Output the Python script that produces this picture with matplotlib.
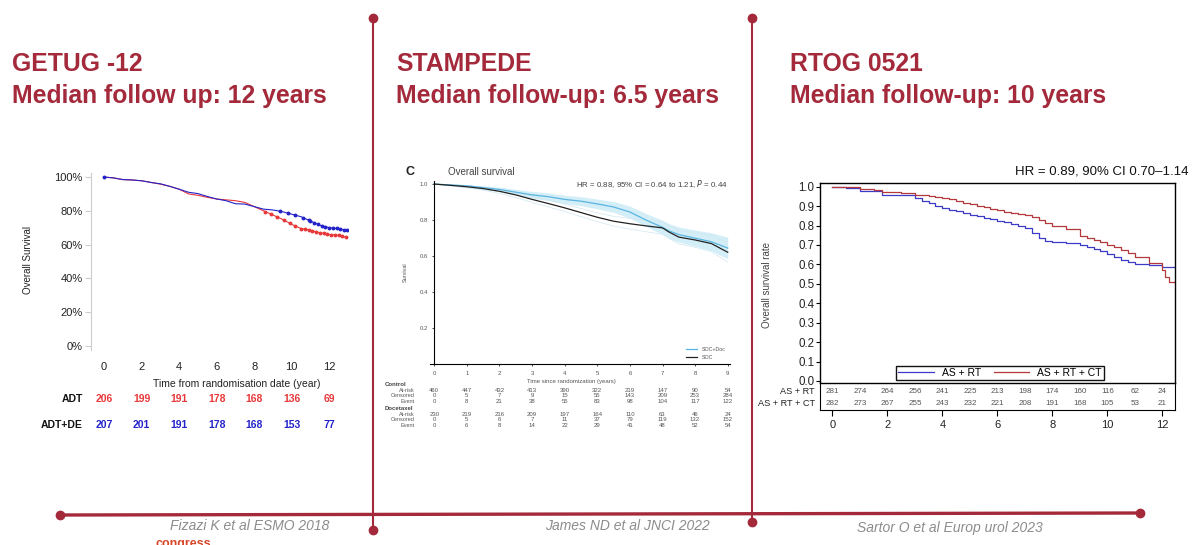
import numpy as np
import matplotlib.pyplot as plt
from matplotlib.transforms import blended_transform_factory

plt.rcParams['font.family'] = ['Liberation Sans', 'DejaVu Sans']

W, H = 1200, 545
maroon = '#a3293b'

# ---- GETUG-12 ----
getug_t = [0, 0.5, 1, 1.5, 2, 2.5, 3, 3.5, 4, 4.5, 5, 5.5, 6, 6.5, 7, 7.5, 8, 8.5, 9, 9.5,
           10, 10.5, 11, 11.5, 12, 12.5, 13]
getug_adt = [100, 99.5, 98.5, 98.2, 97.8, 96.8, 95.8, 94.5, 92.8, 90.0, 89.2, 88.0, 87.0, 86.5,
             86.0, 85.0, 82.5, 80.0, 77.5, 75.0, 72.0, 69.5, 68.5, 67.0, 66.0, 65.5, 64.0]
getug_de = [100, 99.5, 98.5, 98.3, 97.8, 96.8, 96.0, 94.5, 92.8, 91.0, 90.2, 88.5, 87.0, 86.0,
            84.2, 84.0, 82.5, 81.0, 80.5, 79.5, 78.0, 76.5, 74.0, 71.5, 70.0, 69.5, 68.3]
getug_cens_adt = [8.6, 8.9, 9.2, 9.6, 9.9, 10.2, 10.5, 10.7, 10.9, 11.1, 11.3, 11.5, 11.7, 11.9,
                  12.1, 12.3, 12.5, 12.7, 12.9]
getug_cens_de = [0, 9.4, 9.8, 10.2, 10.6, 10.9, 11.0, 11.2, 11.4, 11.6, 11.8, 12.0, 12.2, 12.4,
                 12.6, 12.8, 12.95]
getug_ticks = [0, 2, 4, 6, 8, 10, 12]
getug_risk_adt = [206, 199, 191, 178, 168, 136, 69]
getug_risk_de = [207, 201, 191, 178, 168, 153, 77]

# ---- STAMPEDE ----
stamp_t = [0, 0.5, 1, 1.5, 2, 2.5, 3, 3.5, 4, 4.5, 5, 5.5, 6, 6.5, 7, 7.2, 7.5, 8, 8.5, 9]
stamp_soc = [1.0, 0.993, 0.985, 0.975, 0.96, 0.94, 0.915, 0.892, 0.868, 0.842, 0.816, 0.794,
             0.78, 0.768, 0.757, 0.734, 0.706, 0.69, 0.67, 0.622]
stamp_doc = [1.0, 0.995, 0.99, 0.98, 0.97, 0.955, 0.94, 0.93, 0.915, 0.905, 0.89, 0.873,
             0.845, 0.80, 0.76, 0.74, 0.72, 0.70, 0.68, 0.645]
stamp_ci = [0.0, 0.004, 0.007, 0.01, 0.013, 0.016, 0.019, 0.021, 0.023, 0.025, 0.027, 0.03,
            0.033, 0.036, 0.039, 0.04, 0.042, 0.045, 0.05, 0.06]
stamp_ticks = list(range(10))
ctrl_atrisk = [460, 447, 432, 413, 390, 322, 219, 147, 90, 54]
ctrl_cens = [0, 5, 7, 9, 15, 55, 143, 209, 253, 284]
ctrl_event = [0, 8, 21, 38, 55, 83, 98, 104, 117, 122]
doc_atrisk = [230, 219, 216, 209, 197, 164, 110, 63, 46, 24]
doc_cens = [0, 5, 6, 7, 11, 37, 79, 119, 132, 152]
doc_event = [0, 6, 8, 14, 22, 29, 41, 48, 52, 54]

# ---- RTOG 0521 ----
rtog_t = [0, 0.5, 1, 1.5, 1.8, 2.5, 3, 3.25, 3.5, 3.75, 4, 4.25, 4.5, 4.75, 5, 5.25, 5.5,
          5.75, 6, 6.25, 6.5, 6.75, 7, 7.25, 7.5, 7.75, 8, 8.5, 9, 9.25, 9.5, 9.75, 10, 10.25,
          10.5, 10.75, 11, 11.5, 12, 12.1, 12.25, 12.46]
rtog_rt = [1.0, 0.995, 0.98, 0.978, 0.955, 0.955, 0.94, 0.928, 0.915, 0.9, 0.89, 0.882,
           0.875, 0.865, 0.855, 0.848, 0.84, 0.832, 0.823, 0.816, 0.81, 0.8, 0.785, 0.76,
           0.735, 0.722, 0.714, 0.708, 0.70, 0.69, 0.68, 0.668, 0.655, 0.64, 0.622, 0.61,
           0.60, 0.595, 0.585, 0.585, 0.585, 0.585]
rtog_ct = [1.0, 1.0, 0.99, 0.985, 0.975, 0.97, 0.958, 0.955, 0.952, 0.948, 0.943, 0.935,
           0.925, 0.918, 0.912, 0.902, 0.893, 0.885, 0.878, 0.872, 0.865, 0.858, 0.852, 0.842,
           0.83, 0.815, 0.80, 0.78, 0.745, 0.735, 0.728, 0.715, 0.70, 0.688, 0.675, 0.66,
           0.64, 0.605, 0.57, 0.535, 0.51, 0.51]
rtog_years = list(range(13))
rtog_risk_rt = [281, 274, 264, 256, 241, 225, 213, 198, 174, 160, 116, 62, 24]
rtog_risk_ct = [282, 273, 267, 255, 243, 232, 221, 208, 191, 168, 105, 53, 21]


def rect(l, t, r, b):
    return [l / W, 1 - b / H, (r - l) / W, (b - t) / H]


fig = plt.figure(figsize=(12, 5.45), dpi=100)

# slide decorations in pixel space
deco = fig.add_axes([0, 0, 1, 1], zorder=-5)
deco.set_xlim(0, W)
deco.set_ylim(H, 0)
deco.axis('off')
deco.plot([373, 373], [18, 530], color=maroon, lw=1.5)
deco.plot([752, 752], [18, 522], color=maroon, lw=1.5)
deco.plot([60, 1140], [515, 513], color=maroon, lw=2.4)
deco.plot([373, 373, 752, 752, 60, 1140], [18, 530, 18, 522, 515, 513], 'o', color=maroon, ms=6)
tfont = dict(fontsize=17.8, fontweight='bold', color=maroon, va='center')
deco.text(12, 64, 'GETUG -12', **tfont)
deco.text(12, 96, 'Median follow up: 12 years', **tfont)
deco.text(396, 64, 'STAMPEDE', **tfont)
deco.text(396, 96, 'Median follow-up: 6.5 years', **tfont)
deco.text(790, 64, 'RTOG 0521', **tfont)
deco.text(790, 96, 'Median follow-up: 10 years', **tfont)
cfont = dict(fontsize=10, style='italic', color='#8c8c8c', ha='center', va='center')
deco.text(250, 526, 'Fizazi K et al ESMO 2018', **cfont)
deco.text(627, 526, 'James ND et al JNCI 2022', **cfont)
deco.text(950, 528, 'Sartor O et al Europ urol 2023', **cfont)
deco.text(155, 538, 'congress', fontsize=9, fontweight='bold', color='#d9472b', va='top')

# ---- panel 1 ----
ax1 = fig.add_axes(rect(91, 173, 348, 350))
ax1.set_facecolor('none')
ax1.plot(getug_t, getug_adt, color='#e8383a', lw=0.8)
ax1.plot(getug_t, getug_de, color='#2323c8', lw=0.8)
ax1.plot(getug_cens_adt, np.interp(getug_cens_adt, getug_t, getug_adt), 'o',
         color='#e8383a', ms=1.8)
ax1.plot(getug_cens_de, np.interp(getug_cens_de, getug_t, getug_de), 'o',
         color='#2323c8', ms=1.8)
ax1.set_xlim(-0.7, 13)
ax1.set_ylim(-2.4, 102.4)
for s in ['top', 'right', 'bottom']:
    ax1.spines[s].set_visible(False)
ax1.spines['left'].set_color('#cccccc')
ax1.set_yticks([0, 20, 40, 60, 80, 100])
ax1.set_yticklabels(['0%', '20%', '40%', '60%', '80%', '100%'])
ax1.set_xticks(getug_ticks)
ax1.tick_params(axis='y', length=4, color='#cccccc', labelsize=8, labelcolor='#222222', pad=2)
ax1.tick_params(axis='x', length=0, labelsize=8, labelcolor='#222222', pad=9)
ax1.set_ylabel('Overall Survival', fontsize=7, color='#222222')
ax1.yaxis.set_label_coords(-0.226, 0.51)
ax1.set_xlabel('Time from randomisation date (year)', fontsize=7.5, color='#222222')
ax1.xaxis.set_label_coords(0.567, -0.165)
tr1 = blended_transform_factory(ax1.transData, ax1.transAxes)
for x, a, b in zip(getug_ticks, getug_risk_adt, getug_risk_de):
    ax1.text(x, -0.276, str(a), transform=tr1, ha='center', va='center', fontsize=7.5,
             fontweight='bold', color='#e8383a')
    ax1.text(x, -0.424, str(b), transform=tr1, ha='center', va='center', fontsize=7.5,
             fontweight='bold', color='#2323c8')
ax1.text(-0.031, -0.276, 'ADT', transform=ax1.transAxes, ha='right', va='center',
         fontsize=7.5, fontweight='bold', color='#111111')
ax1.text(-0.031, -0.424, 'ADT+DE', transform=ax1.transAxes, ha='right', va='center',
         fontsize=7.5, fontweight='bold', color='#111111')

# ---- panel 2 ----
ax2 = fig.add_axes(rect(430, 181, 730, 364.4))
ax2.set_facecolor('none')
doc = np.array(stamp_doc)
ci = np.array(stamp_ci)
soc = np.array(stamp_soc)
ax2.fill_between(stamp_t, doc - ci, doc + ci, color='#d4eef8', lw=0)
ax2.plot(stamp_t, soc + ci * 0.9, color='#cfe7f0', lw=0.5)
ax2.plot(stamp_t, soc - ci * 0.9, color='#cfe7f0', lw=0.5)
ax2.plot(stamp_t, doc, color='#5ab4e0', lw=0.9, label='SOC+Doc')
ax2.plot(stamp_t, soc, color='#222222', lw=0.9, label='SOC')
ax2.set_xlim(-0.13, 9.07)
ax2.set_ylim(0, 1.017)
ax2.spines['left'].set_position(('data', 0))
for s in ['top', 'right']:
    ax2.spines[s].set_visible(False)
ax2.spines['left'].set_linewidth(0.8)
ax2.spines['bottom'].set_linewidth(0.8)
ax2.set_xticks(stamp_ticks)
ax2.set_yticks([0.2, 0.4, 0.6, 0.8, 1.0])
ax2.tick_params(length=1.5, width=0.5, labelsize=4.3, labelcolor='#555555', pad=3)
ax2.set_xlabel('Time since randomization (years)', fontsize=4.3, color='#555555')
ax2.xaxis.set_label_coords(0.47, -0.08)
ax2.set_ylabel('Survival', fontsize=4, color='#555555')
ax2.yaxis.set_label_coords(-0.073, 0.504)
ax2.text(-0.067, 1.049, 'C', transform=ax2.transAxes, fontsize=9, fontweight='bold',
         ha='center', va='center', color='#222222')
ax2.text(0.06, 1.049, 'Overall survival', transform=ax2.transAxes, fontsize=7,
         ha='left', va='center', color='#444444')
ax2.text(0.993, 0.984, 'HR = 0.88, 95% CI = 0.64 to 1.21, $\\it{P}$ = 0.44',
         transform=ax2.transAxes, fontsize=5.7, ha='right', va='center', color='#444444')
ax2.legend(loc='lower right', bbox_to_anchor=(1.0, 0.0), fontsize=3.8, frameon=False,
           handlelength=2.2, labelcolor='#555555')
tr2 = blended_transform_factory(ax2.transData, ax2.transAxes)
rows = [('At-risk', ctrl_atrisk, -0.143), ('Censored', ctrl_cens, -0.172),
        ('Event', ctrl_event, -0.203), ('At-risk', doc_atrisk, -0.274),
        ('Censored', doc_cens, -0.303), ('Event', doc_event, -0.334)]
for name, vals, yy in rows:
    ax2.text(-0.05, yy, name, transform=ax2.transAxes, ha='right', va='center',
             fontsize=4, color='#555555')
    for x, v in zip(stamp_ticks, vals):
        ax2.text(x, yy, str(v), transform=tr2, ha='center', va='center', fontsize=4.3,
                 color='#555555')
ax2.text(-0.15, -0.107, 'Control', transform=ax2.transAxes, ha='left', va='center',
         fontsize=4.3, fontweight='bold', color='#444444')
ax2.text(-0.15, -0.238, 'Docetaxel', transform=ax2.transAxes, ha='left', va='center',
         fontsize=4.3, fontweight='bold', color='#444444')

# ---- panel 3 ----
ax3 = fig.add_axes(rect(820, 183.3, 1175, 382.7))
ax3.set_facecolor('none')
ax3.step(rtog_t, rtog_rt, where='post', color='#3b3bc8', lw=0.9, label='AS + RT')
ax3.step(rtog_t, rtog_ct, where='post', color='#b5393c', lw=0.9, label='AS + RT + CT')
ax3.set_xlim(-0.45, 12.46)
ax3.set_ylim(-0.009, 1.0175)
ax3.set_yticks(np.arange(0, 11) / 10)
ax3.set_yticklabels(['%.1f' % v for v in np.arange(0, 11) / 10])
ax3.set_xticks([])
ax3.tick_params(axis='y', length=3, labelsize=8.3, labelcolor='#222222', pad=1)
for s in ax3.spines.values():
    s.set_linewidth(1)
ax3.set_ylabel('Overall survival rate', fontsize=7, color='#444444')
ax3.yaxis.set_label_coords(-0.135, 0.49)
ax3.text(1.037, 1.057, 'HR = 0.89, 90% CI 0.70\u20131.14', transform=ax3.transAxes,
         fontsize=9.5, ha='right', va='center', color='#111111')
ax3.legend(loc='center', bbox_to_anchor=(0.507, 0.049), ncol=2, fontsize=7.5,
           frameon=True, fancybox=False, edgecolor='#111111', framealpha=1,
           borderpad=0.2, handlelength=3.4, columnspacing=1.2, borderaxespad=0)

ax3t = fig.add_axes(rect(820, 382.7, 1175, 410))
ax3t.set_facecolor('none')
ax3t.set_xlim(-0.45, 12.46)
ax3t.set_ylim(0, 2)
ax3t.spines['top'].set_visible(False)
ax3t.set_yticks([])
ax3t.set_xticks([0, 2, 4, 6, 8, 10, 12])
ax3t.tick_params(axis='x', length=4, labelsize=8, labelcolor='#222222', pad=3)
for x, a, b in zip(rtog_years, rtog_risk_rt, rtog_risk_ct):
    ax3t.text(x, 1.32, str(a), ha='center', va='center', fontsize=5.8, color='#555555')
    ax3t.text(x, 0.5, str(b), ha='center', va='center', fontsize=5.8, color='#555555')
ax3t.text(-0.63, 1.32, 'AS + RT', ha='right', va='center', fontsize=6.6, color='#222222',
          clip_on=False)
ax3t.text(-0.63, 0.5, 'AS + RT + CT', ha='right', va='center', fontsize=6.6,
          color='#222222', clip_on=False)

fig.savefig('out.png', dpi=100)
